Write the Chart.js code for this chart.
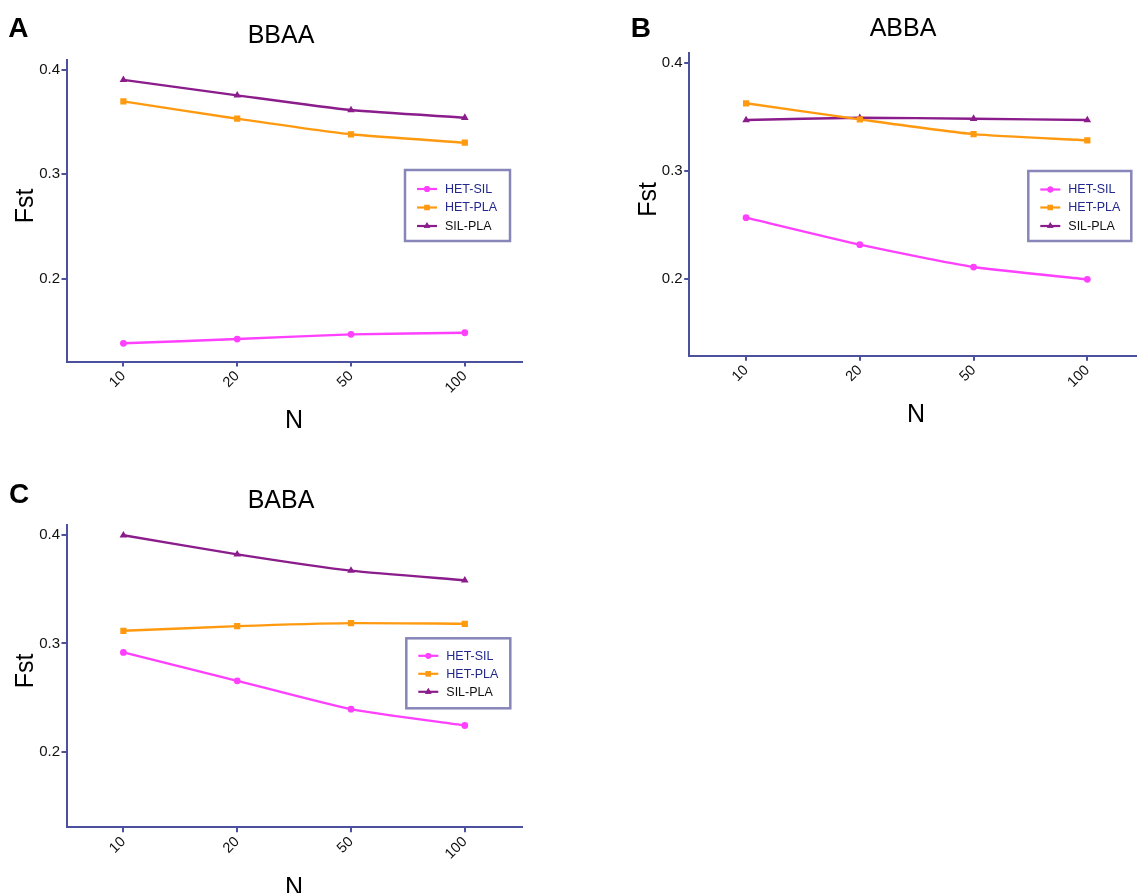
<!DOCTYPE html>
<html><head><meta charset="utf-8">
<script src="https://cdn.jsdelivr.net/npm/chart.js@4.4.1/dist/chart.umd.min.js"></script>
<style>
html,body{margin:0;padding:0;background:#fff;width:1137px;height:893px;overflow:hidden;position:relative}
canvas{position:absolute}
</style></head><body>
<canvas id="cA" width="545" height="440" style="left:0px;top:0px"></canvas>
<canvas id="cB" width="530" height="440" style="left:620px;top:0px"></canvas>
<canvas id="cC" width="545" height="440" style="left:0px;top:460px"></canvas>
<script>
// ---------- data ----------
const categories = ['10', '20', '50', '100'];
const seriesNames = ['HET-SIL', 'HET-PLA', 'SIL-PLA'];
const yTickValues = [0.2, 0.3, 0.4];

// Panel A: BBAA
const hetSilA = [0.1380, 0.1421, 0.1466, 0.1481];
const hetPlaA = [0.3695, 0.3529, 0.3380, 0.3300];
const silPlaA = [0.3901, 0.3753, 0.3612, 0.3539];
// Panel B: ABBA
const hetSilB = [0.2571, 0.2321, 0.2114, 0.2000];
const hetPlaB = [0.3630, 0.3481, 0.3345, 0.3287];
const silPlaB = [0.3475, 0.3496, 0.3487, 0.3475];
// Panel C: BABA
const hetSilC = [0.2917, 0.2655, 0.2393, 0.2242];
const hetPlaC = [0.3117, 0.3160, 0.3188, 0.3182];
const silPlaC = [0.4000, 0.3824, 0.3673, 0.3584];

// axis ranges
const yRangeA = [0.1206, 0.4091];
const yRangeB = [0.1293, 0.4093];
const yRangeC = [0.1301, 0.4095];

// ---------- styles ----------
const FONT = '"Liberation Sans", Arial, Helvetica, sans-serif';
const AXIS = '#4b519c';
const COLORS = ['#ff40ff', '#ff9a10', '#8b1c8b'];
const MARKERS = ['circle', 'rect', 'triangle'];
const RADII = [3.4, 4.4, 4.4];
const LEGEND_TEXT = ['#22288c', '#22288c', '#111111'];
Chart.defaults.font.family = FONT;

const panelText = {
  id: 'panelText',
  afterDraw(chart, args, o) {
    const ctx = chart.ctx;
    ctx.save();
    ctx.fillStyle = '#000';
    ctx.textBaseline = 'alphabetic';
    ctx.font = 'bold 28px ' + FONT;
    ctx.textAlign = 'left';
    ctx.fillText(o.letter, o.letterX, o.letterY);
    ctx.font = '25px ' + FONT;
    ctx.textAlign = 'center';
    ctx.fillText(o.title, o.titleX, o.titleY);
    ctx.fillText('N', o.nX, o.nY);
    ctx.save();
    ctx.translate(o.fX, o.fY);
    ctx.rotate(-Math.PI / 2);
    ctx.fillText('Fst', 0, 0);
    ctx.restore();
    // legend
    const L = o.legend;
    ctx.fillStyle = '#fff';
    ctx.fillRect(L.x, L.y, L.w, L.h);
    ctx.strokeStyle = '#8886b8';
    ctx.lineWidth = 2.5;
    ctx.strokeRect(L.x, L.y, L.w, L.h);
    ctx.font = '12.5px ' + FONT;
    ctx.textAlign = 'left';
    ctx.textBaseline = 'middle';
    chart.data.datasets.forEach((ds, i) => {
      const yy = L.y + L.rows[i];
      ctx.strokeStyle = ds.borderColor;
      ctx.lineWidth = 2.2;
      ctx.beginPath();
      ctx.moveTo(L.x + 12, yy);
      ctx.lineTo(L.x + 32, yy);
      ctx.stroke();
      ctx.fillStyle = ds.borderColor;
      Chart.helpers.drawPoint(ctx, {pointStyle: ds.pointStyle, radius: ds.pointRadius * 0.85, borderWidth: 0}, L.x + 22, yy);
      ctx.fill();
      ctx.fillStyle = LEGEND_TEXT[i];
      ctx.fillText(ds.label, L.x + 40, yy + 0.5);
    });
    ctx.restore();
  }
};

function makePanel(id, values, yRange, lay, text) {
  const datasets = values.map((vals, i) => ({
    label: seriesNames[i],
    data: vals,
    borderColor: COLORS[i],
    backgroundColor: COLORS[i],
    borderWidth: 2.4,
    pointStyle: MARKERS[i],
    pointRadius: RADII[i],
    pointBorderWidth: 0,
    pointBackgroundColor: COLORS[i],
    tension: 0.2,
    fill: false
  }));
  new Chart(document.getElementById(id), {
    type: 'line',
    data: {labels: categories, datasets},
    plugins: [panelText],
    options: {
      responsive: false,
      animation: false,
      devicePixelRatio: 1,
      layout: {padding: {left: 0, top: lay.top, right: lay.right, bottom: 0}},
      plugins: {legend: {display: false}, tooltip: {enabled: false}, title: {display: false}, panelText: text},
      scales: {
        x: {
          type: 'category',
          offset: true,
          grid: {display: true, offset: false, drawOnChartArea: false, drawTicks: true, tickLength: 5, color: AXIS, lineWidth: 2},
          border: {display: true, color: AXIS, width: 2},
          ticks: {minRotation: 45, maxRotation: 45, autoSkip: false, color: '#111', padding: 1, font: {size: 14.5}},
          afterFit(s) { s.height = lay.xH; }
        },
        y: {
          type: 'linear',
          min: yRange[0],
          max: yRange[1],
          afterBuildTicks(s) { s.ticks = yTickValues.map(v => ({value: v})); },
          grid: {display: true, drawOnChartArea: false, drawTicks: true, tickLength: 5, color: AXIS, lineWidth: 2},
          border: {display: true, color: AXIS, width: 2},
          ticks: {color: '#111', padding: 1.5, font: {size: 15}, callback: v => v.toFixed(1)},
          afterFit(s) { s.width = lay.yW; }
        }
      }
    }
  });
}

makePanel('cA', [hetSilA, hetPlaA, silPlaA], yRangeA,
  {top: 60, right: 23.3, yW: 66.5, xH: 78.5},
  {letter: 'A', letterX: 8.3, letterY: 36.7, title: 'BBAA', titleX: 281, titleY: 42.7,
   nX: 294, nY: 428, fX: 33, fY: 206,
   legend: {x: 405, y: 170, w: 105, h: 71, rows: [19, 37.5, 56]}});

makePanel('cB', [hetSilB, hetPlaB, silPlaB], yRangeB,
  {top: 53.3, right: 5.8, yW: 69.2, xH: 84.3},
  {letter: 'B', letterX: 10.7, letterY: 36.7, title: 'ABBA', titleX: 283, titleY: 36,
   nX: 296, nY: 421.7, fX: 36, fY: 199.3,
   legend: {x: 408.3, y: 171, w: 103, h: 70, rows: [18.5, 36.5, 55]}});

makePanel('cC', [hetSilC, hetPlaC, silPlaC], yRangeC,
  {top: 65, right: 23.3, yW: 66.5, xH: 72.7},
  {letter: 'C', letterX: 9, letterY: 43.3, title: 'BABA', titleX: 281, titleY: 48.3,
   nX: 294, nY: 435, fX: 33, fY: 210.8,
   legend: {x: 406.3, y: 178.3, w: 104, h: 70, rows: [17.5, 35.5, 53.5]}});
</script>
</body></html>
